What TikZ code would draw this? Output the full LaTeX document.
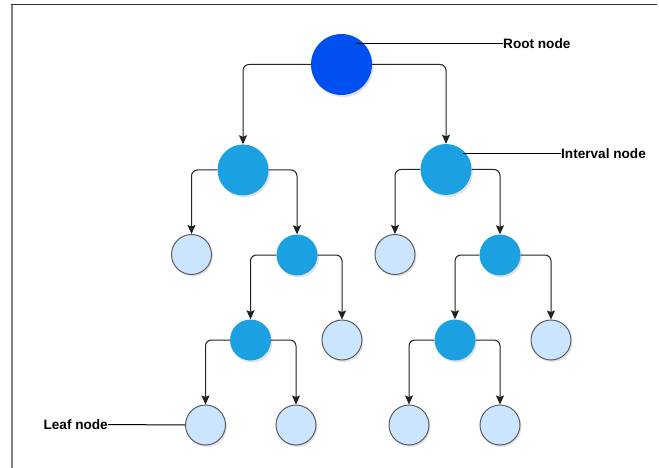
\documentclass[tikz,border=0pt]{standalone}
\usepackage{fontspec}
\setmainfont{Liberation Sans}
\usetikzlibrary{arrows.meta,shadows}
\definecolor{rootblue}{HTML}{0050EF}
\definecolor{innerblue}{HTML}{1BA1E2}
\definecolor{leaffill}{HTML}{CCE5FF}
\definecolor{leafedge}{HTML}{5A5C60}
\definecolor{wire}{HTML}{222222}
\tikzset{
  soft/.style={drop shadow={shadow xshift=1.5pt, shadow yshift=-2pt, opacity=0.18, fill=black!60}},
  rootnode/.style={circle, fill=rootblue, minimum size=61pt, inner sep=0pt, soft},
  innernode/.style={circle, fill=innerblue, minimum size=41pt, inner sep=0pt, soft},
  bignode/.style={innernode, minimum size=51pt},
  leafnode/.style={circle, fill=leaffill, draw=leafedge, line width=1pt, minimum size=40pt, inner sep=0pt, soft},
  conn/.style={draw=wire, line width=1pt, rounded corners=6pt, -{Stealth[length=9pt,width=8pt,inset=1.5pt]}},
  pin/.style={draw=black, line width=1pt},
  tag/.style={font=\bfseries\fontsize{13.6}{15}\selectfont, inner sep=0pt},
}
\begin{document}
\begin{tikzpicture}[x=1pt,y=-1pt]
\useasboundingbox (0,0) rectangle (659,468);
% frame edges
\draw[draw=black!50, line width=1.6pt] (12,4.5) -- (12,470);
\draw[draw=black!80, line width=1.6pt] (11.2,4.5) -- (657,4.5);

% tree nodes
\node[rootnode] (root) at (341.5,64.5) {};
\node[bignode] (a) at (243,170) {};
\node[bignode] (b) at (446,169.5) {};
\node[leafnode] (a1) at (191.5,254.5) {};
\node[innernode] (a2) at (297,255) {};
\node[leafnode] (b1) at (395,254.5) {};
\node[innernode] (b2) at (500,255) {};
\node[innernode] (a21) at (250.5,340) {};
\node[leafnode] (a22) at (342,340) {};
\node[innernode] (b21) at (455,340) {};
\node[leafnode] (b22) at (551,340) {};
\node[leafnode] (a211) at (205.5,425) {};
\node[leafnode] (a212) at (296,425) {};
\node[leafnode] (b211) at (409,425) {};
\node[leafnode] (b212) at (500,425) {};

% edges
\draw[conn] (root.west) -| (a.north);
\draw[conn] (root.east) -| (b.north);
\draw[conn] (a.west) -| (a1.north);
\draw[conn] (a.east) -| (a2.north);
\draw[conn] (b.west) -| (b1.north);
\draw[conn] (b.east) -| (b2.north);
\draw[conn] (a2.west) -| (a21.north);
\draw[conn] (a2.east) -| (a22.north);
\draw[conn] (b2.west) -| (b21.north);
\draw[conn] (b2.east) -| (b22.north);
\draw[conn] (a21.west) -| (a211.north);
\draw[conn] (a21.east) -| (a212.north);
\draw[conn] (b21.west) -| (b211.north);
\draw[conn] (b21.east) -| (b212.north);

% annotations
\coordinate (rootpin) at (356,44);
\coordinate (innerpin) at (463,154);
\node[tag, anchor=west] (rootlbl) at (503,44) {Root node};
\node[tag, anchor=west] (innerlbl) at (561,154) {Interval node};
\node[tag, anchor=east] (leaflbl) at (108,424.5) {Leaf node};
\draw[pin] (rootpin) -- (rootlbl.west);
\draw[pin] (innerpin) -- (innerlbl.west);
\draw[pin] (leaflbl.east) -- (a211.west);
\end{tikzpicture}
\end{document}
